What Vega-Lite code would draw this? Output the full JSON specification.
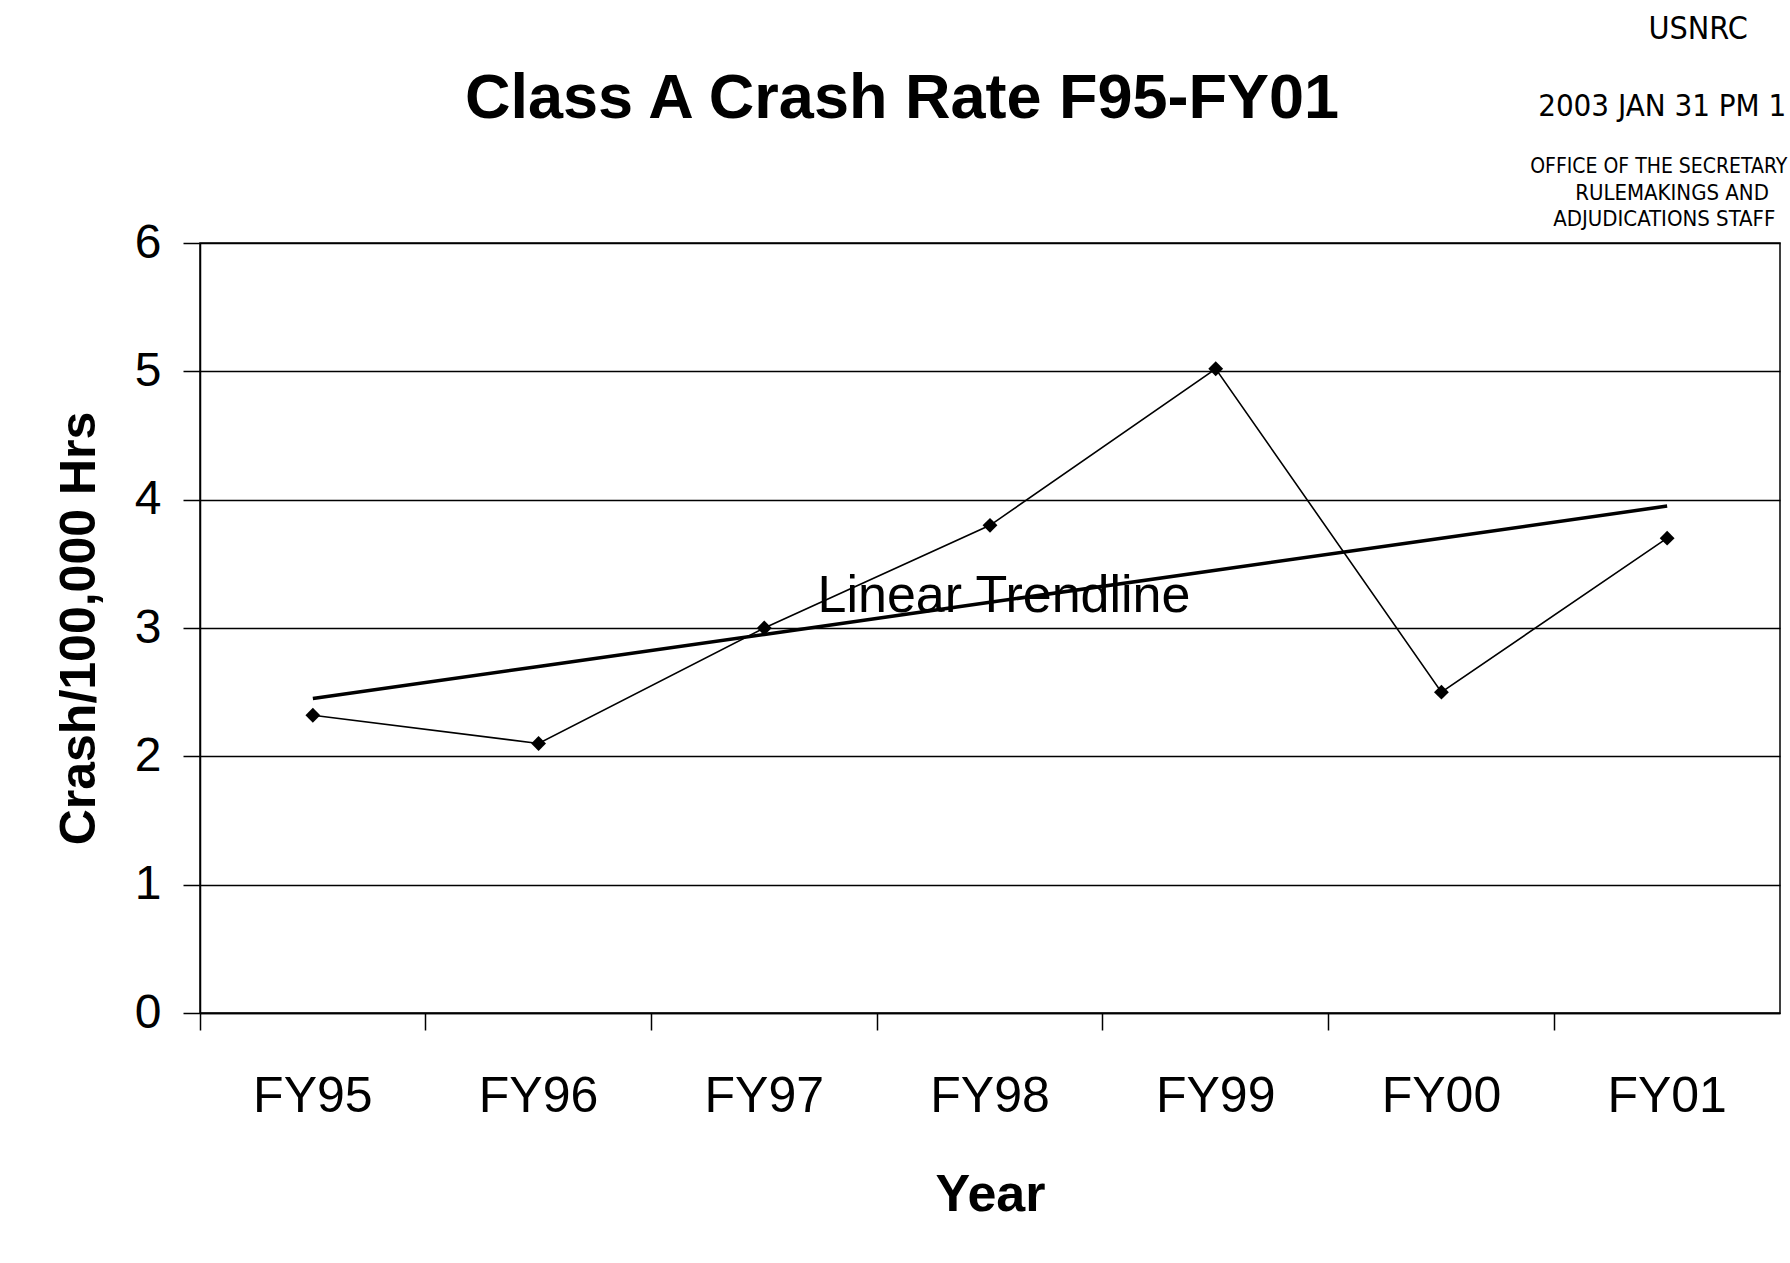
{
  "$schema": "https://vega.github.io/schema/vega-lite/v6.json",
  "autosize": "none",
  "width": 1580,
  "height": 770,
  "padding": {"left": 200, "top": 243, "right": 10, "bottom": 250},
  "background": "white",
  "config": {
    "font": "Liberation Sans",
    "view": {"stroke": "black", "strokeWidth": 1.5},
    "axis": {"domainColor": "black", "tickColor": "black", "labelColor": "black", "titleColor": "black", "domainWidth": 1.5, "tickWidth": 1.5}
  },
  "title": {
    "text": "Class A Crash Rate F95-FY01",
    "font": "Liberation Sans",
    "fontSize": 63,
    "fontWeight": "bold",
    "color": "black",
    "anchor": "middle",
    "frame": "group",
    "dx": -88,
    "offset": -118
  },
  "datasets": {
    "rates": [
      {"year": "FY95", "rate": 2.32, "trend": 2.45},
      {"year": "FY96", "rate": 2.1, "trend": 2.7},
      {"year": "FY97", "rate": 3.0, "trend": 2.95},
      {"year": "FY98", "rate": 3.8, "trend": 3.2},
      {"year": "FY99", "rate": 5.02, "trend": 3.45},
      {"year": "FY00", "rate": 2.5, "trend": 3.7},
      {"year": "FY01", "rate": 3.7, "trend": 3.95}
    ],
    "label": [
      {"year": "FY98", "y": 3.25, "text": "Linear Trendline"}
    ],
    "stampUsnrc": [{"year": "FY01", "y": 7.67, "text": "USNRC"}],
    "stampDate": [{"year": "FY01", "y": 7.06, "text": "2003 JAN 31 PM 1"}],
    "stampOffice": [{"year": "FY01", "y": 6.59, "text": "OFFICE OF THE SECRETARY"}],
    "stampRule": [{"year": "FY01", "y": 6.39, "text": "RULEMAKINGS AND"}],
    "stampAdj": [{"year": "FY01", "y": 6.19, "text": "ADJUDICATIONS STAFF"}]
  },
  "encoding": {
    "x": {
      "field": "year",
      "type": "ordinal",
      "sort": null,
      "scale": {"type": "band", "paddingInner": 0, "paddingOuter": 0},
      "axis": {
        "title": "Year",
        "titleFontSize": 52,
        "titleFontWeight": "bold",
        "titlePadding": 48,
        "labelFontSize": 50,
        "labelAngle": 0,
        "labelPadding": 41,
        "tickSize": 17,
        "bandPosition": 0,
        "grid": false
      }
    }
  },
  "layer": [
    {
      "data": {"name": "rates"},
      "mark": {"type": "line", "color": "black", "strokeWidth": 3.5},
      "encoding": {
        "y": {
          "field": "trend",
          "type": "quantitative",
          "scale": {"domain": [0, 6], "nice": false},
          "axis": {
            "title": "Crash/100,000 Hrs",
            "titleFontSize": 50,
            "titleFontWeight": "bold",
            "titlePadding": 30,
            "labelFontSize": 48,
            "labelPadding": 22,
            "tickSize": 17,
            "format": "d",
            "values": [0, 1, 2, 3, 4, 5, 6],
            "grid": true,
            "gridColor": "black",
            "gridWidth": 1.5,
            "gridOpacity": 1
          }
        }
      }
    },
    {
      "data": {"name": "rates"},
      "mark": {"type": "line", "color": "black", "strokeWidth": 1.6, "point": {"shape": "diamond", "filled": true, "size": 220, "color": "black"}},
      "encoding": {
        "y": {"field": "rate", "type": "quantitative"}
      }
    },
    {
      "data": {"name": "label"},
      "mark": {"type": "text", "fontSize": 52, "color": "black", "align": "center", "baseline": "middle", "dx": 14},
      "encoding": {
        "y": {"field": "y", "type": "quantitative"},
        "text": {"field": "text"}
      }
    },
    {
      "data": {"name": "stampUsnrc"},
      "mark": {"type": "text", "font": "DejaVu Sans Condensed", "fontSize": 32, "color": "black", "align": "center", "baseline": "middle", "dx": 31},
      "encoding": {"y": {"field": "y", "type": "quantitative"}, "text": {"field": "text"}}
    },
    {
      "data": {"name": "stampDate"},
      "mark": {"type": "text", "font": "DejaVu Sans Condensed", "fontSize": 31, "color": "black", "align": "left", "baseline": "middle", "dx": -129},
      "encoding": {"y": {"field": "y", "type": "quantitative"}, "text": {"field": "text"}}
    },
    {
      "data": {"name": "stampOffice"},
      "mark": {"type": "text", "font": "DejaVu Sans Condensed", "fontSize": 21, "color": "black", "align": "left", "baseline": "middle", "dx": -137},
      "encoding": {"y": {"field": "y", "type": "quantitative"}, "text": {"field": "text"}}
    },
    {
      "data": {"name": "stampRule"},
      "mark": {"type": "text", "font": "DejaVu Sans Condensed", "fontSize": 22, "color": "black", "align": "left", "baseline": "middle", "dx": -92},
      "encoding": {"y": {"field": "y", "type": "quantitative"}, "text": {"field": "text"}}
    },
    {
      "data": {"name": "stampAdj"},
      "mark": {"type": "text", "font": "DejaVu Sans Condensed", "fontSize": 22, "color": "black", "align": "left", "baseline": "middle", "dx": -114},
      "encoding": {"y": {"field": "y", "type": "quantitative"}, "text": {"field": "text"}}
    }
  ]
}
